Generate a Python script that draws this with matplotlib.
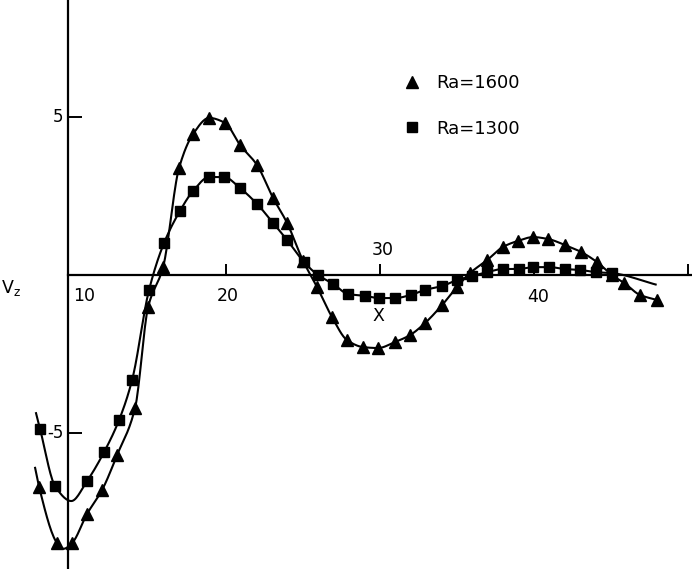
import numpy as np
import matplotlib
matplotlib.use("Agg")
import matplotlib.pyplot as plt
from matplotlib.lines import Line2D

# Ra = 1600 (triangles)
ra1600_x = [7.86, 9.03, 10.0, 10.97, 11.95, 12.92, 14.09, 14.94, 15.91, 16.95,
            17.86, 18.90, 19.94, 20.91, 22.01, 23.05, 23.96, 25.0, 25.91, 26.88,
            27.86, 28.90, 29.87, 30.97, 31.95, 32.92, 34.03, 35.0, 35.84, 36.95,
            37.99, 38.96, 39.94, 40.90, 42.01, 43.05, 44.09, 45.06, 45.85, 46.88,
            47.99]
ra1600_y = [-6.71, -8.48, -8.48, -7.56, -6.80, -5.70, -4.21, -1.01, 0.25, 3.39,
            4.46, 4.97, 4.81, 4.11, 3.48, 2.44, 1.65, 0.45, -0.38, -1.33,
            -2.06, -2.28, -2.31, -2.12, -1.90, -1.52, -0.95, -0.38, 0.06, 0.47,
            0.89, 1.08, 1.20, 1.14, 0.95, 0.73, 0.41, 0.0, -0.25, -0.63,
            -0.79]

# Ra = 1300 (squares)
ra1300_x = [7.92, 8.90, 10.97, 12.08, 13.05, 13.90, 15.0, 15.97, 17.01, 17.86,
            18.90, 19.87, 20.91, 22.01, 23.05, 23.96, 25.06, 25.97, 26.95, 27.92,
            29.03, 29.94, 30.97, 32.0, 32.92, 34.03, 35.0, 36.0, 36.95, 38.0,
            39.0, 39.94, 41.0, 42.0, 43.0, 44.0, 45.06]
ra1300_y = [-4.87, -6.68, -6.52, -5.60, -4.59, -3.32, -0.47, 1.01, 2.03, 2.66,
            3.10, 3.10, 2.75, 2.25, 1.65, 1.11, 0.41, 0.0, -0.28, -0.60,
            -0.66, -0.73, -0.73, -0.63, -0.47, -0.35, -0.16, -0.03, 0.09, 0.19,
            0.19, 0.25, 0.25, 0.19, 0.16, 0.09, 0.06]

# points on the drawn curves that carry no marker (ends and dips)
curve1600_x = [7.60, 9.45]
curve1600_y = [-6.10, -8.66]
curve1300_x = [7.66, 9.95, 47.9]
curve1300_y = [-4.37, -7.15, -0.30]

xtick_pos    = [20, 30, 40, 50]
xtick_labels = ["10", "20", "30", "40"]
ytick_pos    = [-5, 5]
ytick_labels = ["-5", "5"]
legend_labels = ["Ra=1600", "Ra=1300"]


def smooth(xs, ys, n=16):
    """monotone cubic (pchip) curve through the points, x increasing"""
    order = np.argsort(xs)
    xs = np.asarray(xs, float)[order]
    ys = np.asarray(ys, float)[order]
    h = np.diff(xs)
    d = np.diff(ys) / h
    m = np.zeros_like(ys)
    m[0], m[-1] = d[0], d[-1]
    for k in range(1, len(xs) - 1):
        if d[k - 1] * d[k] <= 0:
            m[k] = 0.0
        else:
            w1 = 2 * h[k] + h[k - 1]
            w2 = h[k] + 2 * h[k - 1]
            m[k] = (w1 + w2) / (w1 / d[k - 1] + w2 / d[k])
    t = np.linspace(0.0, 1.0, n, endpoint=False)
    h00 = 2 * t**3 - 3 * t**2 + 1
    h10 = t**3 - 2 * t**2 + t
    h01 = -2 * t**3 + 3 * t**2
    h11 = t**3 - t**2
    out_x, out_y = [], []
    for i in range(len(xs) - 1):
        out_x.extend(xs[i] + t * h[i])
        out_y.extend(h00 * ys[i] + h10 * h[i] * m[i] + h01 * ys[i + 1] + h11 * h[i] * m[i + 1])
    out_x.append(xs[-1])
    out_y.append(ys[-1])
    return out_x, out_y


plt.rcParams['font.family'] = ['DejaVu Sans']

fig = plt.figure(figsize=(6.92, 5.69), dpi=100)
ax = fig.add_axes([0, 0, 1, 1])
ax.set_xlim(5.32, 50.26)
ax.set_ylim(-9.30, 8.70)

for sp in ("top", "right"):
    ax.spines[sp].set_visible(False)
ax.spines["left"].set_position(("data", 9.74))
ax.spines["bottom"].set_position(("data", 0))
ax.spines["bottom"].set_bounds(9.74, 50.26)
for sp in ("left", "bottom"):
    ax.spines[sp].set_linewidth(1.6)

ax.set_xticks(xtick_pos)
ax.set_xticklabels([])
ax.set_yticks(ytick_pos)
ax.set_yticklabels([])
ax.tick_params(axis="both", direction="in", length=8, width=1.4)
ax.tick_params(axis="y", length=10)

# curves
cx, cy = smooth(ra1600_x + curve1600_x, ra1600_y + curve1600_y)
ax.plot(cx, cy, color="black", linewidth=1.5)
cx, cy = smooth(ra1300_x + curve1300_x, ra1300_y + curve1300_y)
ax.plot(cx, cy, color="black", linewidth=1.5)

ax.plot(ra1600_x, ra1600_y, linestyle="none", marker="^", markersize=8, color="black")
ax.plot(ra1300_x, ra1300_y, linestyle="none", marker="s", markersize=7, color="black")

# tick labels written by hand, as in the original figure
fs = 12.5
label_xy = [(10.78, -0.66), (20.13, -0.66), (30.2, 0.79), (40.26, -0.70)]
for (lx, ly), lab in zip(label_xy, xtick_labels):
    ax.text(lx, ly, lab, ha="center", va="center", fontsize=fs)
for yv, lab in zip(ytick_pos, ytick_labels):
    ax.text(9.42, yv, lab, ha="right", va="center", fontsize=fs - 0.5)

ax.text(6.0, -0.4, r"V$_\mathregular{z}$", ha="center", va="center", fontsize=fs)
ax.text(29.87, -1.30, "X", ha="center", va="center", fontsize=fs)

handles = [Line2D([], [], linestyle="none", marker="^", markersize=8, color="black"),
           Line2D([], [], linestyle="none", marker="s", markersize=7, color="black")]
ax.legend(handles, legend_labels, loc="upper left", bbox_to_anchor=(0.57, 0.885),
          frameon=False, fontsize=13, handlelength=1.0, handletextpad=0.8,
          labelspacing=1.5, borderpad=0)

plt.savefig("out.png", dpi=100)
